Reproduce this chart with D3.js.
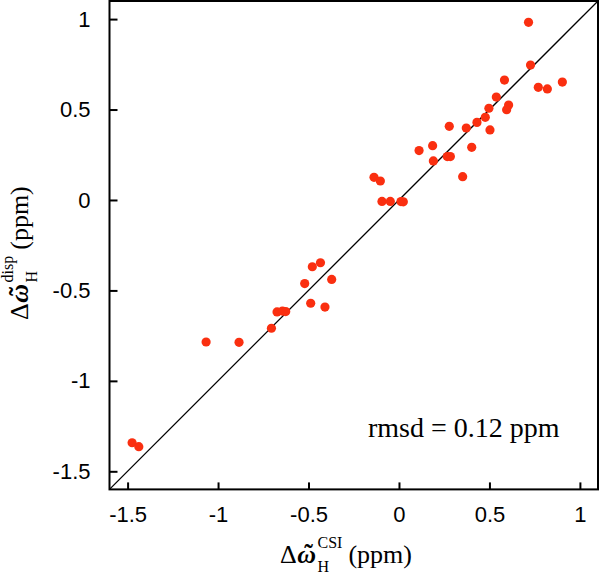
<!DOCTYPE html>
<html><head><meta charset="utf-8">
<script src="https://cdn.jsdelivr.net/npm/d3@7"></script>
<style>body{margin:0;background:#fff}svg{display:block}</style>
</head><body><svg id="c" width="600" height="576"></svg>
<script>
// Δω_H^CSI (x) and Δω_H^disp (y), ppm
const csiShift  = [0.716,0.727,0.583,0.770,0.820,0.903,0.538,0.606,0.595,0.497,0.477,0.431,0.372,0.503,0.278,0.186,0.111,0.402,0.190,0.267,0.284,0.352,-0.138,-0.103,-0.094,-0.048,0.011,0.024,-0.434,-0.479,-0.372,-0.521,-0.488,-0.409,-0.674,-0.644,-0.626,-0.705,-1.066,-0.884,-1.475,-1.438];
const dispShift = [0.982,0.746,0.663,0.623,0.614,0.652,0.569,0.525,0.499,0.507,0.457,0.429,0.398,0.387,0.407,0.300,0.273,0.291,0.216,0.240,0.240,0.129,0.125,0.105,-0.008,-0.008,-0.009,-0.010,-0.347,-0.369,-0.439,-0.462,-0.571,-0.592,-0.619,-0.614,-0.617,-0.709,-0.785,-0.787,-1.342,-1.364];
const xTicks = [-1.5,-1,-0.5,0,0.5,1];
const yTicks = [-1.5,-1,-0.5,0,0.5,1];
const axisDomain = [-1.6,1.1];
const annotation = "rmsd = 0.12 ppm";

const serif = "'Liberation Serif','Times New Roman',serif";
const sans = "'Liberation Sans',Arial,Helvetica,sans-serif";
const svg = d3.select("#c");
const L=109.5,R=598,T=1,B=489.4;
const x = d3.scaleLinear().domain(axisDomain).range([L,R]);
const y = d3.scaleLinear().domain(axisDomain).range([B,T]);

// diagonal y = x
svg.append("line")
  .attr("x1",x(axisDomain[0])).attr("y1",y(axisDomain[0]))
  .attr("x2",x(axisDomain[1])).attr("y2",y(axisDomain[1]))
  .attr("stroke","#000").attr("stroke-width",1.3);

// points
svg.append("g").selectAll("circle")
  .data(csiShift.map((v,i)=>[v,dispShift[i]]))
  .join("circle")
  .attr("cx",d=>x(d[0])).attr("cy",d=>y(d[1])).attr("r",4.6)
  .attr("fill","#fa2f10");

// axes
const xa = svg.append("g").attr("transform",`translate(0,${B})`)
  .call(d3.axisBottom(x).tickValues(xTicks).tickSize(-7).tickPadding(17).tickFormat(d=>String(d)));
const ya = svg.append("g").attr("transform",`translate(${L},0)`)
  .call(d3.axisLeft(y).tickValues(yTicks).tickSize(-8).tickPadding(19).tickFormat(d=>String(d)));
[xa,ya].forEach(a=>{
  a.select(".domain").remove();
  a.selectAll(".tick line").attr("stroke","#000").attr("stroke-width",2);
  a.selectAll(".tick text").attr("fill","#000").attr("font-family",sans).attr("font-size",22);
});

// frame
svg.append("rect").attr("x",L).attr("y",T).attr("width",R-L).attr("height",B-T)
  .attr("fill","none").attr("stroke","#000").attr("stroke-width",2);

// annotation
svg.append("text").attr("x",368).attr("y",437).attr("font-family",serif).attr("font-size",28)
  .attr("fill","#000").text(annotation);

// titles
function buildTitle(g, sup){
  const txt = (xx,yy,size,s)=>g.append("text").attr("x",xx).attr("y",yy)
    .attr("font-family",serif).attr("font-size",size).attr("fill","#000").text(s);
  const d = txt(0,0,26,"Δ");
  const wD = d.node().getComputedTextLength();
  const om = txt(wD+0.5,0,26,"ω").attr("font-style","italic").attr("font-weight","bold");
  const wO = om.node().getComputedTextLength();
  txt(wD+0.5+wO/2+2,-1,26,"˜").attr("text-anchor","middle").attr("font-weight","bold");
  const w1 = wD+0.5+wO+1.5;
  const h = txt(w1,9,16,"H");
  const s = txt(w1,-15,16,sup);
  const w2 = Math.max(h.node().getComputedTextLength(), s.node().getComputedTextLength());
  txt(w1+w2+6,0,26,"(ppm)");
}
buildTitle(svg.append("g").attr("transform","translate(280,563)"),"CSI");
buildTitle(svg.append("g").attr("transform","translate(28,320) rotate(-90)"),"disp");
</script></body></html>
